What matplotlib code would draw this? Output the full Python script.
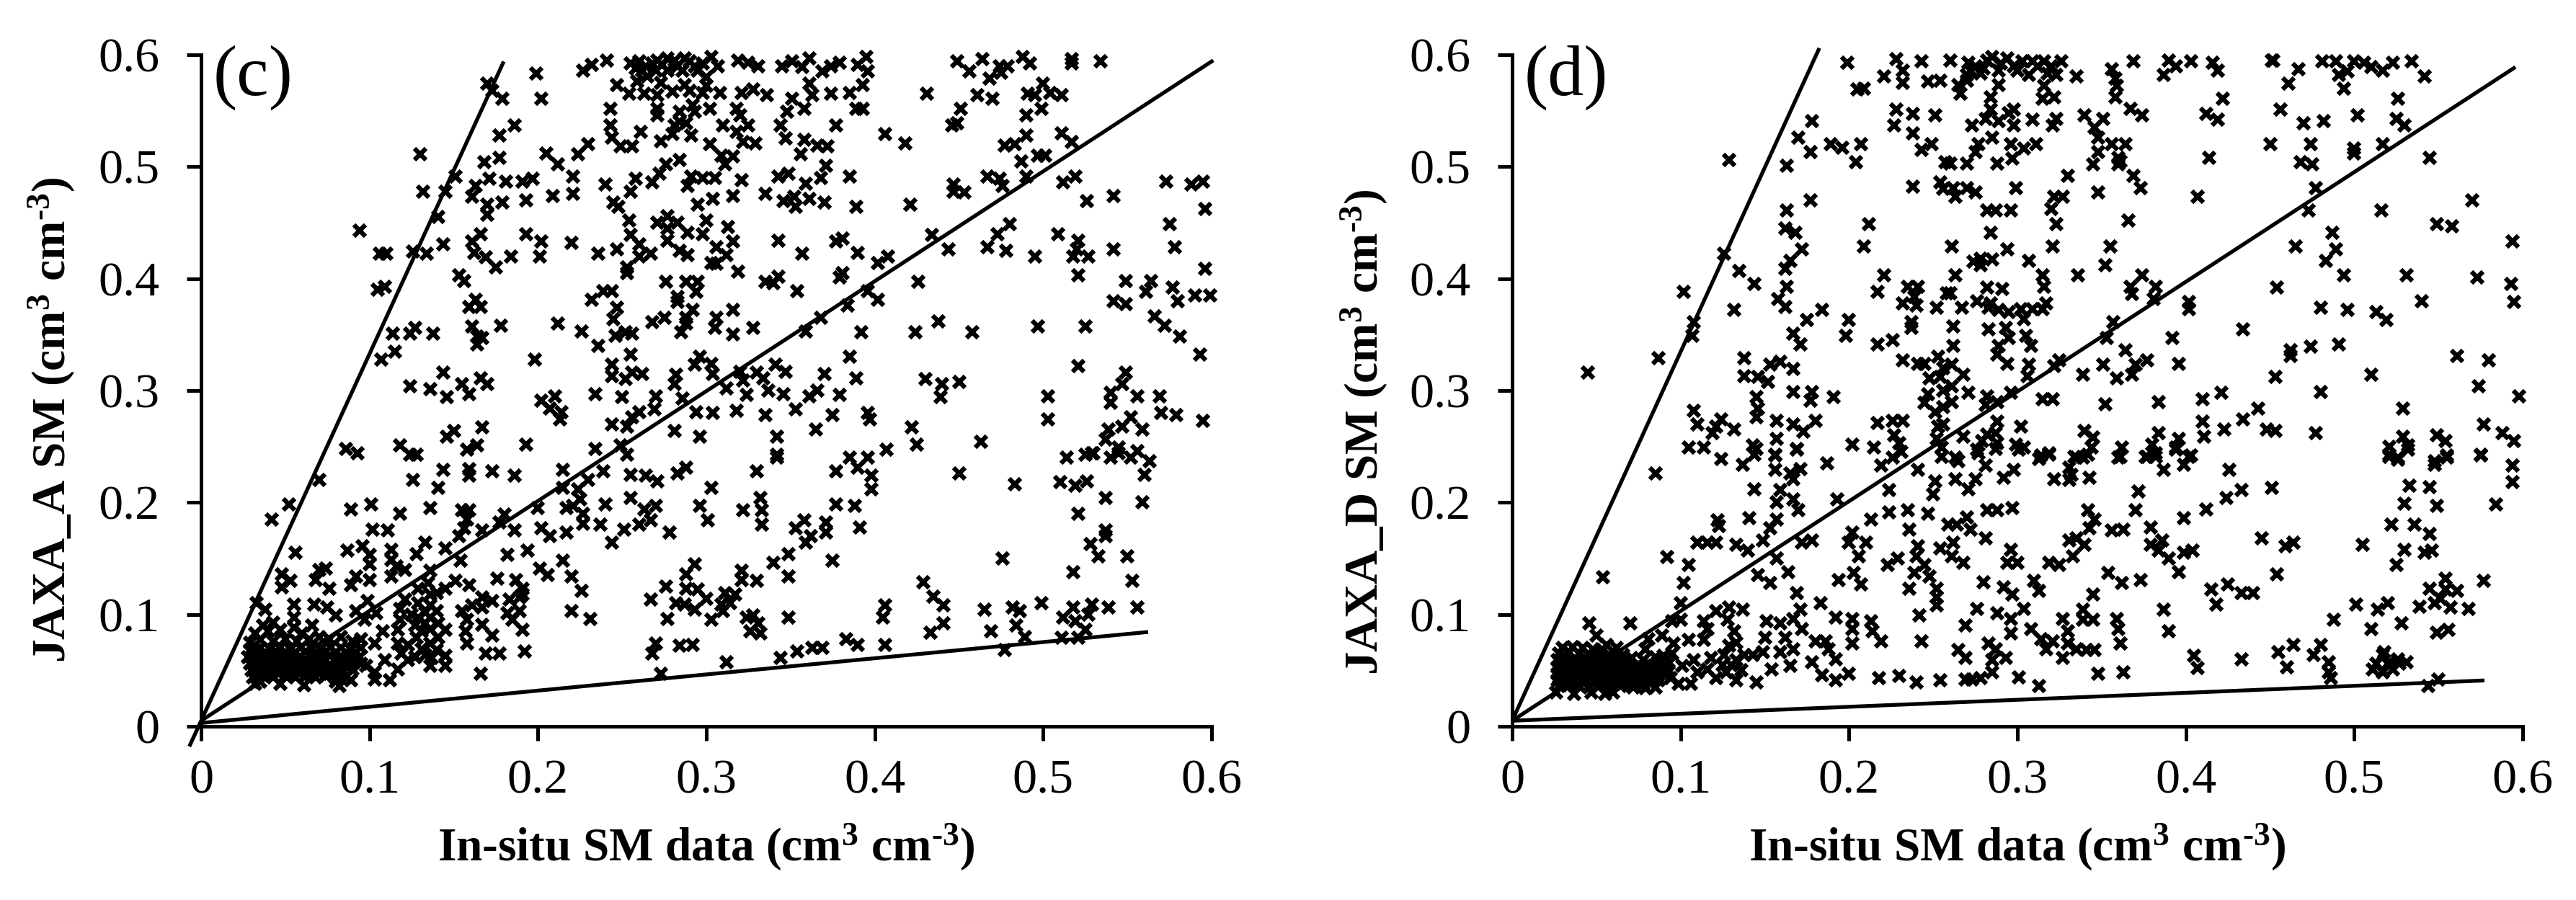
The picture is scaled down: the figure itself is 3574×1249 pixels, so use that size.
import matplotlib
matplotlib.use("Agg")
import matplotlib.pyplot as plt

plt.rcParams['font.family'] = ['Liberation Serif', 'DejaVu Serif']
plt.rcParams['mathtext.fontset'] = 'custom'
plt.rcParams['mathtext.bf'] = 'Liberation Serif:bold'
plt.rcParams['mathtext.rm'] = 'Liberation Serif:bold'

tick_values = [0, 0.1, 0.2, 0.3, 0.4, 0.5, 0.6]
tick_labels = ['0', '0.1', '0.2', '0.3', '0.4', '0.5', '0.6']

# Panel (c): in-situ SM, JAXA_A SM
c_upper_left = [(.170,.574),(.173,.568),(.179,.561),(.199,.583),(.202,.561),(.186,.537),(.177,.528),(.177,.508),(.168,.504),(.130,.511),(.132,.478),(.151,.491),(.145,.478),(.141,.455),(.163,.483),(.161,.473),(.171,.489),(.181,.487),(.191,.487),(.197,.489),(.193,.470),(.179,.468),(.170,.466),(.170,.457),(.209,.474),(.221,.491),(.221,.476),(.205,.512),(.212,.502),(.224,.511),(.230,.520),(.227,.586),(.232,.591),(.241,.595),(.243,.552),(.243,.537),(.244,.526),(.249,.518),(.256,.518),(.247,.573),(.254,.565),(.263,.565),(.259,.576),(.261,.531),(.240,.484),(.258,.489),(.255,.478),(.245,.468),(.248,.464),(.254,.452),(.255,.439),(.094,.443),(.106,.422),(.110,.422),(.105,.390),(.109,.393),(.126,.424),(.134,.422),(.144,.431),(.166,.440),(.161,.433),(.162,.423),(.169,.419),(.175,.410),(.184,.420),(.193,.440),(.202,.433),(.201,.420),(.220,.432),(.236,.422),(.247,.426),(.260,.431),(.260,.420),(.253,.410),(.253,.405),(.153,.403),(.156,.398),(.163,.381),(.159,.375),(.166,.375),(.232,.381),(.239,.389),(.244,.389),(.247,.374),(.245,.364),(.161,.357),(.178,.358),(.212,.360),(.226,.353),(.114,.351),(.124,.351),(.127,.356),(.138,.351),(.164,.348),(.167,.347),(.164,.341),(.107,.328),(.115,.335),(.236,.340),(.246,.349),(.252,.352),(.256,.351),(.198,.328),(.255,.332),(.144,.316),(.124,.304),(.136,.301),(.146,.294),(.155,.306),(.159,.297),(.166,.311),(.170,.306),(.202,.291),(.210,.295),(.207,.284),(.214,.281),(.213,.274),(.234,.297),(.250,.294),(.244,.323),(.244,.313),(.252,.310),(.256,.316),(.262,.315),(.260,.281),(.256,.276),(.244,.270),(.253,.268),(.167,.267),(.150,.264),(.146,.259),(.086,.248),(.093,.244),(.118,.251),(.124,.243),(.128,.243),(.158,.247),(.164,.251),(.193,.252),(.234,.248),(.249,.251),(.253,.243)]
c_mid_left = [(.070,.220),(.052,.198),(.042,.185),(.089,.194),(.101,.198),(.118,.190),(.136,.195),(.126,.220),(.141,.213),(.144,.229),(.159,.230),(.159,.224),(.173,.228),(.186,.224),(.215,.229),(.215,.213),(.224,.212),(.225,.203),(.230,.220),(.239,.228),(.255,.225),(.255,.204),(.264,.224),(.263,.194),(.240,.198),(.200,.195),(.217,.195),(.221,.197),(.227,.190),(.227,.181),(.237,.180),(.251,.176),(.260,.180),(.244,.164),(.155,.193),(.159,.193),(.158,.185),(.180,.189),(.177,.182),(.186,.175),(.167,.175),(.156,.177),(.153,.170),(.202,.177),(.207,.170),(.217,.173),(.102,.176),(.111,.175),(.133,.164),(.145,.159),(.087,.157),(.096,.161),(.100,.153),(.100,.145),(.113,.158),(.113,.149),(.116,.143),(.121,.140),(.113,.134),(.128,.154),(.056,.155),(.154,.148),(.182,.153),(.194,.157),(.215,.148),(.201,.141),(.206,.135),(.220,.134),(.226,.121),(.220,.103),(.231,.096),(.176,.132),(.187,.131),(.191,.123),(.151,.130),(.159,.126),(.167,.115),(.173,.112),(.161,.108),(.167,.106),(.155,.103),(.158,.095),(.145,.123),(.183,.113),(.189,.115),(.191,.118),(.182,.101),(.189,.103),(.185,.095),(.167,.091),(.173,.081),(.157,.085),(.158,.074),(.191,.086),(.192,.067),(.169,.065),(.177,.065),(.166,.047),(.145,.086),(.145,.063),(.145,.054)]
c_low_cluster = [(.048,.136),(.053,.130),(.048,.124),(.070,.140),(.074,.141),(.068,.131),(.076,.123),(.089,.126),(.092,.134),(.100,.131),(.033,.110),(.038,.104),(.055,.109),(.055,.097),(.067,.109),(.075,.106),(.080,.099),(.092,.103),(.099,.112),(.097,.095),(.104,.101),(.118,.105),(.121,.113),(.136,.139),(.135,.128),(.129,.123),(.136,.118),(.129,.110),(.136,.108),(.136,.097),(.129,.097),(.136,.087),(.131,.085),(.136,.074),(.131,.069),(.137,.061),(.136,.054),(.118,.095),(.117,.086),(.117,.074),(.123,.073),(.119,.065),(.123,.059),(.117,.051),(.108,.085),(.103,.074),(.109,.059),(.098,.054),(.103,.048),(.112,.041),(.103,.042),(.125,.100),(.127,.090),(.133,.102),(.133,.092),(.128,.079),(.133,.064),(.127,.062),(.140,.119),(.140,.103),(.141,.092),(.141,.079),(.140,.068)]
c_blob = [(.037,.090),(.043,.093),(.032,.083),(.040,.085),(.047,.086),(.055,.088),(.060,.083),(.066,.090),(.029,.075),(.035,.077),(.043,.076),(.050,.078),(.057,.076),(.064,.078),(.070,.080),(.076,.078),(.083,.080),(.090,.076),(.095,.078),(.029,.068),(.035,.070),(.041,.069),(.047,.071),(.053,.069),(.059,.070),(.065,.071),(.071,.069),(.077,.071),(.083,.070),(.089,.069),(.095,.070),(.028,.062),(.034,.063),(.040,.062),(.046,.064),(.052,.063),(.058,.062),(.064,.064),(.070,.062),(.076,.063),(.082,.062),(.088,.063),(.094,.062),(.029,.056),(.035,.057),(.041,.055),(.047,.057),(.053,.056),(.059,.055),(.065,.057),(.071,.056),(.077,.055),(.083,.057),(.089,.056),(.095,.056),(.030,.050),(.036,.051),(.042,.049),(.048,.050),(.054,.051),(.060,.049),(.066,.050),(.072,.051),(.078,.049),(.084,.050),(.090,.051),(.031,.044),(.037,.045),(.043,.044),(.050,.045),(.056,.044),(.062,.045),(.068,.044),(.074,.045),(.080,.043),(.086,.044),(.032,.038),(.047,.038),(.061,.037),(.082,.036),(.089,.041),(.035,.040),(.080,.040),(.032,.066),(.038,.066),(.044,.067),(.050,.066),(.056,.066),(.062,.067),(.068,.066),(.074,.067),(.080,.066),(.086,.066),(.092,.066),(.032,.059),(.038,.059),(.044,.060),(.050,.059),(.056,.059),(.062,.060),(.068,.059),(.074,.059),(.080,.060),(.086,.059),(.092,.059),(.033,.053),(.039,.053),(.045,.053),(.051,.053),(.057,.053),(.063,.053),(.069,.053),(.075,.053),(.081,.053),(.087,.053),(.034,.047),(.040,.047),(.046,.047),(.052,.047),(.058,.047),(.064,.047),(.070,.047),(.076,.047),(.082,.047)]
c_top_dense = [(.271,.595),(.277,.597),(.281,.595),(.287,.597),(.293,.590),(.270,.586),(.277,.586),(.286,.586),(.295,.586),(.303,.598),(.307,.590),(.319,.595),(.325,.593),(.331,.590),(.345,.590),(.351,.594),(.361,.597),(.357,.589),(.369,.585),(.374,.590),(.379,.593),(.390,.591),(.395,.598),(.396,.585),(.393,.573),(.361,.574),(.363,.564),(.374,.565),(.385,.566),(.393,.552),(.389,.552),(.273,.575),(.287,.573),(.300,.572),(.271,.564),(.280,.567),(.290,.568),(.298,.566),(.308,.566),(.321,.566),(.328,.569),(.336,.564),(.351,.561),(.271,.552),(.292,.555),(.302,.552),(.318,.552),(.320,.546),(.348,.549),(.358,.552),(.271,.546),(.284,.549),(.293,.549),(.284,.540),(.281,.537),(.288,.539),(.310,.537),(.318,.531),(.325,.537),(.344,.537),(.377,.537),(.406,.529),(.418,.521),(.291,.528),(.280,.529),(.273,.523),(.302,.520),(.322,.522),(.329,.521),(.347,.525),(.358,.524),(.356,.511),(.366,.519),(.372,.518),(.309,.510),(.316,.509),(.311,.502),(.284,.506),(.276,.502),(.272,.494),(.268,.486),(.291,.491),(.298,.490),(.305,.490),(.289,.483),(.321,.488),(.343,.491),(.349,.494),(.359,.485),(.368,.490),(.371,.501),(.385,.491),(.316,.474),(.335,.476),(.346,.469),(.352,.473),(.353,.464),(.361,.471),(.370,.468),(.389,.464),(.421,.466),(.295,.466),(.304,.471),(.300,.452),(.313,.446),(.277,.456),(.271,.450),(.277,.445),(.283,.450),(.289,.441),(.298,.440),(.277,.434),(.316,.433),(.306,.428),(.343,.434),(.381,.436),(.377,.433),(.357,.422),(.390,.423),(.408,.420),(.402,.414),(.284,.425),(.289,.421),(.267,.422),(.303,.414),(.312,.421),(.306,.413),(.319,.406),(.276,.397),(.288,.397),(.295,.397),(.294,.388),(.283,.384),(.283,.379),(.335,.397),(.340,.396),(.343,.402),(.354,.389),(.381,.405),(.379,.401),(.396,.389),(.402,.381),(.384,.376),(.426,.397),(.292,.372),(.316,.372),(.368,.365),(.359,.353),(.392,.352),(.424,.352),(.438,.362),(.458,.352),(.268,.361),(.275,.365),(.288,.365),(.306,.365),(.288,.360),(.285,.352),(.305,.356),(.316,.350),(.328,.356),(.255,.592),(.260,.594),(.264,.590),(.268,.592),(.274,.591),(.283,.590),(.290,.594),(.298,.592),(.262,.586),(.258,.588),(.265,.581),(.300,.580)]
c_lower_mid = [(.296,.330),(.293,.323),(.303,.324),(.341,.323),(.385,.330),(.320,.317),(.330,.316),(.282,.314),(.304,.315),(.322,.309),(.334,.311),(.347,.317),(.370,.315),(.389,.311),(.430,.310),(.440,.306),(.450,.308),(.281,.306),(.312,.302),(.324,.296),(.337,.300),(.346,.297),(.361,.295),(.366,.300),(.379,.296),(.439,.294),(.286,.293),(.270,.295),(.269,.283),(.294,.281),(.304,.280),(.318,.282),(.335,.278),(.353,.283),(.375,.278),(.396,.280),(.397,.274),(.422,.267),(.281,.264),(.296,.259),(.342,.259),(.365,.265),(.425,.252),(.463,.254),(.407,.247),(.342,.243),(.385,.240),(.396,.240),(.342,.240),(.330,.228),(.271,.219),(.283,.226),(.288,.231),(.303,.213),(.270,.197),(.267,.184),(.278,.173),(.296,.197),(.301,.184),(.322,.193),(.332,.204),(.333,.193),(.333,.180),(.390,.231),(.377,.228),(.398,.224),(.398,.212),(.377,.198),(.388,.197),(.391,.178),(.358,.184),(.353,.177),(.362,.170),(.359,.164),(.371,.182),(.371,.173),(.349,.154),(.340,.146),(.349,.134),(.375,.148),(.321,.139),(.330,.130),(.321,.131),(.293,.145),(.288,.136),(.276,.125),(.288,.123),(.295,.122),(.300,.114),(.282,.110),(.287,.109),(.293,.104),(.267,.113),(.277,.096),(.303,.095),(.309,.109),(.314,.110),(.317,.118),(.311,.119),(.310,.103),(.324,.097),(.328,.099),(.331,.092),(.326,.085),(.332,.083),(.349,.097),(.270,.074),(.268,.065),(.284,.072),(.292,.073),(.273,.047),(.312,.057),(.344,.061),(.354,.067),(.363,.070),(.369,.070),(.383,.078),(.390,.073),(.406,.073),(.406,.108),(.405,.097),(.429,.129),(.435,.116),(.441,.108),(.441,.092),(.433,.084),(.465,.104),(.469,.085),(.482,.106),(.486,.103),(.499,.110),(.484,.090),(.489,.080),(.477,.068),(.518,.106),(.512,.097),(.529,.109),(.527,.100),(.519,.094),(.525,.086),(.521,.079),(.511,.079),(.539,.106),(.556,.106),(.476,.150),(.450,.226),(.483,.216),(.510,.218),(.519,.215),(.526,.219),(.537,.204),(.521,.190),(.559,.200),(.537,.175),(.537,.170),(.528,.163),(.533,.152),(.550,.152),(.518,.138),(.553,.130),(.514,.240),(.525,.243),(.530,.244),(.540,.240),(.545,.244),(.552,.240),(.556,.246),(.563,.237),(.560,.225)]
c_right = [(.449,.594),(.464,.596),(.456,.585),(.474,.590),(.479,.590),(.475,.584),(.488,.598),(.492,.592),(.468,.579),(.517,.596),(.517,.592),(.534,.594),(.431,.565),(.461,.564),(.470,.561),(.491,.565),(.495,.564),(.500,.574),(.504,.566),(.511,.564),(.451,.552),(.490,.546),(.499,.552),(.446,.537),(.449,.539),(.490,.528),(.511,.530),(.517,.522),(.477,.519),(.483,.520),(.487,.505),(.497,.510),(.501,.510),(.447,.484),(.447,.478),(.453,.477),(.467,.491),(.474,.489),(.476,.483),(.490,.491),(.512,.486),(.519,.491),(.526,.469),(.542,.474),(.573,.487),(.588,.484),(.595,.487),(.596,.462),(.434,.439),(.473,.440),(.480,.449),(.509,.440),(.444,.426),(.467,.428),(.478,.425),(.495,.420),(.521,.434),(.520,.426),(.518,.420),(.527,.420),(.542,.426),(.575,.449),(.578,.428),(.596,.409),(.521,.403),(.549,.398),(.564,.398),(.561,.388),(.577,.392),(.580,.380),(.590,.385),(.599,.385),(.542,.380),(.549,.377),(.566,.366),(.572,.358),(.581,.348),(.593,.332),(.497,.357),(.525,.357),(.521,.322),(.549,.316),(.547,.306),(.540,.298),(.540,.289),(.556,.295),(.569,.295),(.503,.295),(.503,.274),(.552,.276),(.570,.280),(.579,.278),(.595,.273),(.547,.268),(.539,.265),(.559,.265),(.537,.256),(.545,.249),(.529,.244)]

# Panel (d): in-situ SM, JAXA_D SM
d_upper_left = [(.129,.506),(.199,.593),(.228,.596),(.243,.594),(.221,.581),(.232,.586),(.232,.575),(.247,.576),(.254,.577),(.205,.569),(.209,.570),(.228,.551),(.238,.547),(.251,.546),(.227,.537),(.238,.530),(.178,.541),(.170,.526),(.177,.513),(.189,.520),(.196,.517),(.207,.520),(.204,.504),(.163,.501),(.243,.515),(.249,.520),(.257,.504),(.238,.482),(.254,.486),(.256,.480),(.177,.470),(.163,.461),(.162,.445),(.168,.441),(.212,.449),(.172,.426),(.209,.429),(.126,.422),(.165,.416),(.162,.409),(.135,.407),(.144,.395),(.221,.403),(.163,.393),(.102,.388),(.217,.388),(.235,.393),(.241,.393),(.239,.384),(.232,.378),(.240,.376),(.252,.374),(.258,.387),(.158,.382),(.162,.375),(.132,.372),(.184,.372),(.175,.363),(.200,.363),(.108,.361),(.107,.349),(.167,.351),(.171,.341),(.198,.349),(.226,.345),(.217,.341),(.237,.361),(.237,.356),(.087,.329),(.045,.316),(.138,.329),(.153,.323),(.159,.326),(.167,.319),(.138,.313),(.146,.312),(.152,.308),(.232,.327),(.241,.324),(.245,.324),(.253,.330),(.248,.311),(.254,.312),(.167,.299),(.178,.299),(.177,.291),(.191,.294),(.145,.294),(.146,.284),(.145,.276),(.247,.297),(.245,.289),(.108,.282),(.110,.270),(.124,.274),(.121,.268),(.119,.262),(.132,.265),(.157,.273),(.167,.270),(.180,.273),(.173,.263),(.217,.271),(.226,.273),(.232,.273),(.227,.260),(.251,.281),(.253,.268),(.252,.257),(.157,.257),(.105,.249),(.114,.249),(.143,.251),(.145,.248),(.156,.243),(.169,.248),(.202,.252),(.215,.249),(.230,.253),(.231,.245),(.255,.249),(.255,.241),(.256,.320),(.256,.300),(.256,.285),(.256,.270)]
d_mid_left = [(.124,.239),(.137,.234),(.144,.243),(.156,.242),(.169,.247),(.187,.235),(.156,.229),(.165,.226),(.171,.230),(.167,.221),(.085,.226),(.144,.212),(.159,.211),(.157,.200),(.167,.203),(.170,.193),(.193,.203),(.141,.186),(.122,.184),(.123,.179),(.157,.185),(.153,.177),(.213,.185),(.219,.233),(.226,.240),(.224,.211),(.224,.191),(.235,.193),(.241,.229),(.251,.219),(.250,.207),(.247,.190),(.236,.176),(.202,.173),(.200,.164),(.210,.164),(.110,.164),(.116,.164),(.121,.164),(.133,.162),(.140,.157),(.149,.166),(.172,.164),(.178,.166),(.092,.151),(.105,.144),(.157,.150),(.206,.152),(.241,.161),(.240,.152),(.254,.159),(.229,.150),(.223,.144),(.245,.144),(.239,.137),(.054,.133),(.102,.128),(.146,.135),(.153,.128),(.164,.138),(.194,.131),(.203,.137),(.207,.127),(.236,.123),(.248,.134),(.252,.123),(.252,.115),(.100,.110),(.169,.119),(.183,.110),(.171,.104),(.252,.108),(.242,.099),(.046,.092),(.070,.092),(.095,.094),(.100,.095),(.114,.094),(.121,.103),(.129,.106),(.137,.104),(.128,.095),(.132,.085),(.151,.094),(.159,.092),(.167,.096),(.172,.087),(.192,.097),(.202,.096),(.202,.087),(.213,.094),(.214,.085),(.219,.076),(.202,.074),(.243,.076),(.050,.081),(.056,.073),(.062,.070),(.081,.078),(.089,.081),(.079,.069),(.096,.074),(.105,.077),(.114,.077),(.116,.087),(.150,.079),(.149,.066),(.162,.079),(.159,.066),(.167,.069),(.180,.076),(.186,.076),(.188,.069),(.192,.060),(.178,.057),(.165,.054),(.154,.051),(.145,.039),(.184,.046),(.192,.041),(.200,.047),(.218,.043),(.230,.045),(.240,.039),(.254,.041),(.133,.041),(.121,.043),(.127,.048),(.133,.059),(.126,.064),(.138,.064),(.129,.072),(.143,.064),(.116,.051),(.106,.038),(.099,.038),(.110,.048),(.108,.059),(.101,.054),(.094,.043),(.118,.061),(.133,.075),(.136,.050),(.125,.055),(.130,.055)]
d_blob = [(.030,.070),(.036,.071),(.042,.070),(.048,.069),(.054,.068),(.060,.067),(.066,.064),(.028,.065),(.034,.066),(.040,.065),(.046,.064),(.052,.066),(.058,.063),(.064,.060),(.071,.061),(.078,.059),(.085,.062),(.090,.063),(.095,.065),(.027,.059),(.033,.060),(.039,.058),(.045,.059),(.051,.060),(.057,.058),(.063,.056),(.069,.057),(.075,.055),(.081,.056),(.087,.057),(.093,.056),(.027,.053),(.033,.054),(.039,.052),(.045,.053),(.051,.054),(.057,.052),(.063,.051),(.069,.052),(.075,.050),(.081,.051),(.087,.052),(.093,.050),(.027,.047),(.033,.048),(.039,.046),(.045,.047),(.051,.048),(.057,.046),(.063,.047),(.069,.045),(.075,.046),(.081,.045),(.087,.046),(.027,.041),(.033,.042),(.039,.041),(.045,.042),(.051,.041),(.057,.042),(.063,.040),(.069,.040),(.075,.041),(.081,.040),(.087,.041),(.028,.036),(.034,.037),(.040,.036),(.046,.035),(.052,.037),(.058,.036),(.064,.036),(.072,.035),(.079,.034),(.085,.035),(.026,.030),(.037,.029),(.047,.030),(.055,.029),(.060,.030),(.030,.056),(.036,.056),(.042,.056),(.048,.056),(.054,.056),(.060,.056),(.066,.054),(.072,.053),(.078,.053),(.084,.054),(.090,.053),(.030,.050),(.036,.050),(.042,.050),(.048,.050),(.054,.050),(.060,.049),(.066,.049),(.072,.048),(.078,.048),(.084,.049),(.090,.047),(.030,.044),(.036,.044),(.042,.044),(.048,.044),(.054,.044),(.060,.044),(.066,.043),(.072,.043),(.078,.043),(.084,.043),(.030,.039),(.036,.039),(.042,.039),(.048,.039),(.054,.039),(.060,.039),(.066,.038),(.072,.038),(.078,.038)]
d_top_dense = [(.260,.595),(.271,.593),(.272,.586),(.278,.583),(.282,.595),(.285,.598),(.294,.597),(.303,.594),(.309,.594),(.316,.594),(.326,.594),(.289,.586),(.289,.573),(.307,.582),(.318,.583),(.323,.582),(.335,.581),(.265,.573),(.266,.565),(.270,.577),(.316,.572),(.315,.561),(.322,.562),(.284,.562),(.284,.551),(.356,.587),(.358,.579),(.359,.572),(.369,.594),(.390,.595),(.394,.590),(.403,.594),(.387,.582),(.416,.593),(.419,.586),(.422,.561),(.358,.562),(.367,.552),(.374,.546),(.412,.547),(.419,.542),(.340,.546),(.351,.543),(.273,.537),(.281,.543),(.289,.541),(.295,.548),(.298,.551),(.298,.537),(.309,.542),(.321,.537),(.323,.543),(.346,.535),(.348,.526),(.285,.526),(.296,.520),(.304,.516),(.311,.520),(.277,.520),(.275,.513),(.356,.520),(.364,.520),(.348,.513),(.360,.508),(.360,.502),(.260,.503),(.270,.503),(.288,.503),(.297,.507),(.275,.590),(.280,.588),(.290,.592),(.298,.590),(.312,.590),(.320,.590),(.300,.586),(.270,.582)]
d_lower_mid = [(.330,.492),(.369,.492),(.345,.502),(.361,.505),(.299,.481),(.373,.481),(.348,.477),(.327,.473),(.322,.473),(.407,.473),(.262,.481),(.263,.473),(.270,.481),(.275,.477),(.282,.461),(.287,.461),(.296,.461),(.320,.462),(.323,.449),(.366,.452),(.284,.441),(.261,.429),(.321,.429),(.355,.429),(.294,.426),(.278,.418),(.278,.412),(.285,.417),(.274,.415),(.307,.416),(.352,.412),(.263,.403),(.315,.403),(.316,.393),(.336,.403),(.374,.403),(.282,.392),(.291,.391),(.367,.393),(.368,.386),(.382,.393),(.260,.387),(.381,.382),(.402,.379),(.402,.373),(.276,.380),(.284,.378),(.283,.374),(.289,.372),(.267,.374),(.295,.370),(.302,.373),(.309,.373),(.315,.373),(.317,.378),(.304,.364),(.262,.357),(.283,.355),(.293,.356),(.305,.349),(.295,.347),(.308,.340),(.357,.361),(.353,.347),(.392,.347),(.434,.355),(.262,.340),(.289,.340),(.288,.332),(.364,.336),(.294,.324),(.307,.323),(.306,.313),(.325,.327),(.322,.322),(.351,.323),(.377,.327),(.370,.323),(.368,.314),(.359,.311),(.396,.324),(.268,.314),(.261,.323),(.339,.314),(.453,.312),(.462,.336),(.462,.331),(.474,.339),(.491,.341),(.561,.331),(.580,.327),(.510,.314),(.480,.299),(.574,.304),(.598,.295),(.421,.298),(.410,.292),(.384,.290),(.352,.288),(.321,.292),(.315,.292),(.296,.298),(.288,.290),(.282,.295),(.281,.287),(.271,.298),(.261,.290),(.261,.304),(.443,.284),(.434,.274),(.529,.284),(.410,.272),(.411,.259),(.423,.265),(.448,.265),(.453,.264),(.477,.262),(.577,.270),(.588,.262),(.595,.255),(.549,.260),(.554,.255),(.529,.259),(.521,.250),(.532,.251),(.521,.241),(.526,.240),(.555,.242),(.548,.237),(.575,.243),(.302,.268),(.288,.272),(.268,.259),(.282,.261),(.287,.262),(.279,.255),(.288,.253),(.276,.247),(.263,.240),(.299,.252),(.304,.249),(.314,.242),(.319,.243),(.334,.241),(.339,.240),(.340,.264),(.345,.258),(.344,.249),(.362,.249),(.360,.240),(.384,.262),(.380,.252),(.376,.241),(.382,.241),(.396,.257),(.394,.249),(.402,.241)]
d_low_right = [(.277,.244),(.287,.248),(.301,.247),(.319,.244),(.313,.239),(.335,.240),(.342,.243),(.361,.241),(.377,.241),(.382,.244),(.394,.247),(.403,.242),(.399,.234),(.521,.243),(.526,.238),(.532,.247),(.555,.240),(.548,.234),(.575,.242),(.594,.233),(.594,.218),(.584,.198),(.265,.237),(.263,.221),(.271,.212),(.275,.221),(.281,.233),(.292,.222),(.298,.229),(.322,.221),(.331,.231),(.331,.220),(.343,.222),(.332,.225),(.387,.229),(.426,.229),(.372,.210),(.433,.211),(.424,.204),(.451,.213),(.533,.215),(.545,.214),(.530,.199),(.549,.197),(.370,.193),(.412,.194),(.399,.186),(.282,.193),(.288,.193),(.297,.195),(.342,.193),(.346,.185),(.343,.177),(.379,.178),(.270,.187),(.264,.180),(.272,.176),(.281,.168),(.259,.180),(.356,.175),(.363,.176),(.331,.166),(.335,.168),(.340,.162),(.379,.162),(.386,.166),(.384,.157),(.399,.155),(.404,.157),(.445,.168),(.459,.161),(.464,.164),(.505,.162),(.522,.180),(.536,.180),(.545,.172),(.530,.158),(.542,.155),(.546,.157),(.525,.144),(.262,.164),(.261,.152),(.268,.146),(.296,.158),(.294,.146),(.300,.146),(.319,.146),(.325,.144),(.333,.152),(.390,.150),(.396,.138),(.454,.136),(.354,.137),(.362,.128),(.373,.131),(.280,.129),(.292,.124),(.297,.118),(.310,.130),(.313,.121),(.345,.118),(.415,.122),(.418,.109),(.425,.127),(.433,.119),(.440,.119),(.554,.132),(.545,.123),(.561,.121),(.554,.122),(.577,.130),(.501,.109),(.520,.110),(.514,.104),(.488,.095),(.510,.087),(.528,.092),(.539,.107),(.548,.110),(.551,.114),(.557,.106),(.568,.105),(.549,.084),(.556,.086),(.276,.105),(.288,.101),(.296,.096),(.304,.105),(.269,.090),(.296,.083),(.327,.096),(.339,.104),(.339,.095),(.345,.095),(.359,.096),(.360,.087),(.361,.074),(.387,.104),(.390,.085),(.308,.087),(.314,.078),(.321,.076),(.317,.069),(.330,.085),(.330,.074),(.335,.069),(.327,.061),(.341,.068),(.346,.068),(.283,.074),(.287,.069),(.285,.059),(.285,.048),(.293,.061),(.265,.068),(.269,.061),(.269,.042),(.273,.042),(.278,.043),(.301,.044),(.313,.036),(.348,.047),(.363,.048),(.405,.063),(.407,.052),(.433,.060),(.460,.053),(.455,.066),(.464,.073),(.476,.064),(.480,.073),(.485,.057),(.485,.048),(.486,.043),(.544,.036),(.550,.042),(.517,.064),(.513,.056),(.520,.056),(.527,.056),(.517,.048),(.523,.051),(.511,.051),(.531,.057),(.518,.066),(.526,.060)]
d_right_up = [(.451,.595),(.452,.595),(.467,.587),(.461,.574),(.481,.594),(.489,.594),(.500,.594),(.496,.585),(.491,.582),(.506,.593),(.510,.589),(.517,.586),(.523,.593),(.534,.594),(.542,.581),(.494,.570),(.526,.561),(.456,.551),(.470,.539),(.482,.541),(.502,.546),(.525,.543),(.530,.537),(.450,.520),(.474,.520),(.500,.516),(.500,.512),(.517,.520),(.468,.504),(.475,.502),(.545,.508),(.477,.481),(.473,.461),(.414,.508),(.516,.461),(.570,.470),(.549,.449),(.558,.447),(.487,.441),(.594,.433),(.465,.429),(.489,.426),(.483,.416),(.494,.403),(.531,.403),(.573,.401),(.593,.395),(.454,.392),(.540,.380),(.595,.379),(.480,.374),(.496,.372),(.513,.370),(.519,.363)]

# Reference lines: x and y end points
c_upper_x, c_upper_y = [-0.007, 0.1797], [-0.018, 0.594]
c_mid_x, c_mid_y = [0.0, 0.601], [0.005, 0.595]
c_low_x, c_low_y = [0.0, 0.5623], [0.003, 0.0843]
d_upper_x, d_upper_y = [0.0, 0.1824], [0.005, 0.606]
d_mid_x, d_mid_y = [0.0, 0.5957], [0.005, 0.589]
d_low_x, d_low_y = [0.0, 0.5773], [0.005, 0.041]

panel_c = c_upper_left + c_mid_left + c_low_cluster + c_blob + c_top_dense + c_lower_mid + c_right
panel_d = d_upper_left + d_mid_left + d_blob + d_top_dense + d_lower_mid + d_low_right + d_right_up

W, H = 3574, 1249
fig = plt.figure(figsize=(W / 100, H / 100), dpi=100, facecolor='white')
TOP, BOT = 76, 1008
UNITS = r' (cm$\mathbf{^{3}}$ cm$\mathbf{^{\text{-}3}}$)'


def panel(x0, x1, pts, lines, tag, tag_x, ylabel, ylab_x, ylab_y):
    ax = fig.add_axes([x0 / W, 1 - BOT / H, (x1 - x0) / W, (BOT - TOP) / H])
    xs, ys = zip(*pts)
    ax.plot(xs, ys, ls='none', marker='x', ms=11.5, mew=4.6, color='black', clip_on=False, zorder=3)
    for lx, ly in lines:
        ax.plot(lx, ly, color='black', lw=3.8, clip_on=False, zorder=2, solid_capstyle='butt')
    ax.set_xlim(0, 0.6)
    ax.set_ylim(0, 0.6)
    ax.set_xticks(tick_values, tick_labels)
    ax.set_yticks(tick_values, tick_labels)
    ax.tick_params(length=14.5, width=3.6, labelsize=49, direction='out', color='black')
    ax.tick_params(axis='x', pad=18)
    ax.tick_params(axis='y', pad=27)
    for s in ('top', 'right'):
        ax.spines[s].set_visible(False)
    for s in ('left', 'bottom'):
        ax.spines[s].set_linewidth(3.6)
    fig.text(tag_x / W, 1 - 108 / H, tag, fontsize=72, ha='left', va='center')
    fig.text((x0 + x1) / 2 / W, 1 - 1194 / H, 'In-situ SM data' + UNITS,
             fontsize=47, fontweight='bold', ha='center', va='baseline')
    fig.text(ylab_x / W, 1 - ylab_y / H, ylabel + UNITS, fontsize=47, fontweight='bold',
             rotation=90, ha='center', va='center')


panel(279, 1681, panel_c, [(c_upper_x, c_upper_y), (c_mid_x, c_mid_y), (c_low_x, c_low_y)], '(c)', 296,
      'JAXA_A SM', 72, 583)
panel(2098, 3500, panel_d, [(d_upper_x, d_upper_y), (d_mid_x, d_mid_y), (d_low_x, d_low_y)], '(d)', 2115,
      'JAXA_D SM', 1893, 600)

fig.savefig('out.png', dpi=100)
